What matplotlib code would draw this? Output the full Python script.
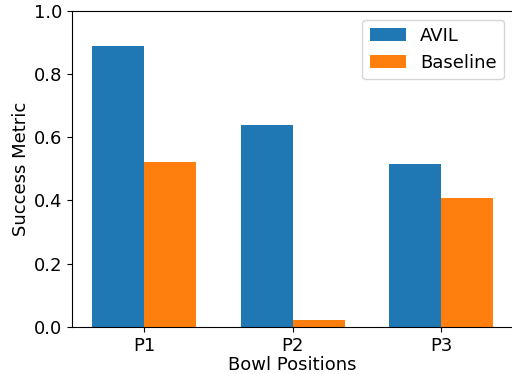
import numpy as np
import matplotlib.pyplot as plt

positions = ['P1', 'P2', 'P3']
avil = [0.889, 0.640, 0.516]
baseline = [0.523, 0.022, 0.408]

x = np.arange(len(positions))
width = 0.35

plt.rcParams['font.size'] = 13

fig, ax = plt.subplots(figsize=(5.12, 3.74), dpi=100)
ax.bar(x - width / 2, avil, width, label='AVIL', color='#1f77b4')
ax.bar(x + width / 2, baseline, width, label='Baseline', color='#ff7f0e')

ax.set_xticks(x)
ax.set_xticklabels(positions)
ax.set_ylim(0, 1.0)
ax.set_xlabel('Bowl Positions', labelpad=1)
ax.set_ylabel('Success Metric', labelpad=3)
ax.legend(loc='upper right')

plt.subplots_adjust(left=0.141, right=1.002, top=0.971, bottom=0.126)
plt.savefig('out.png')
